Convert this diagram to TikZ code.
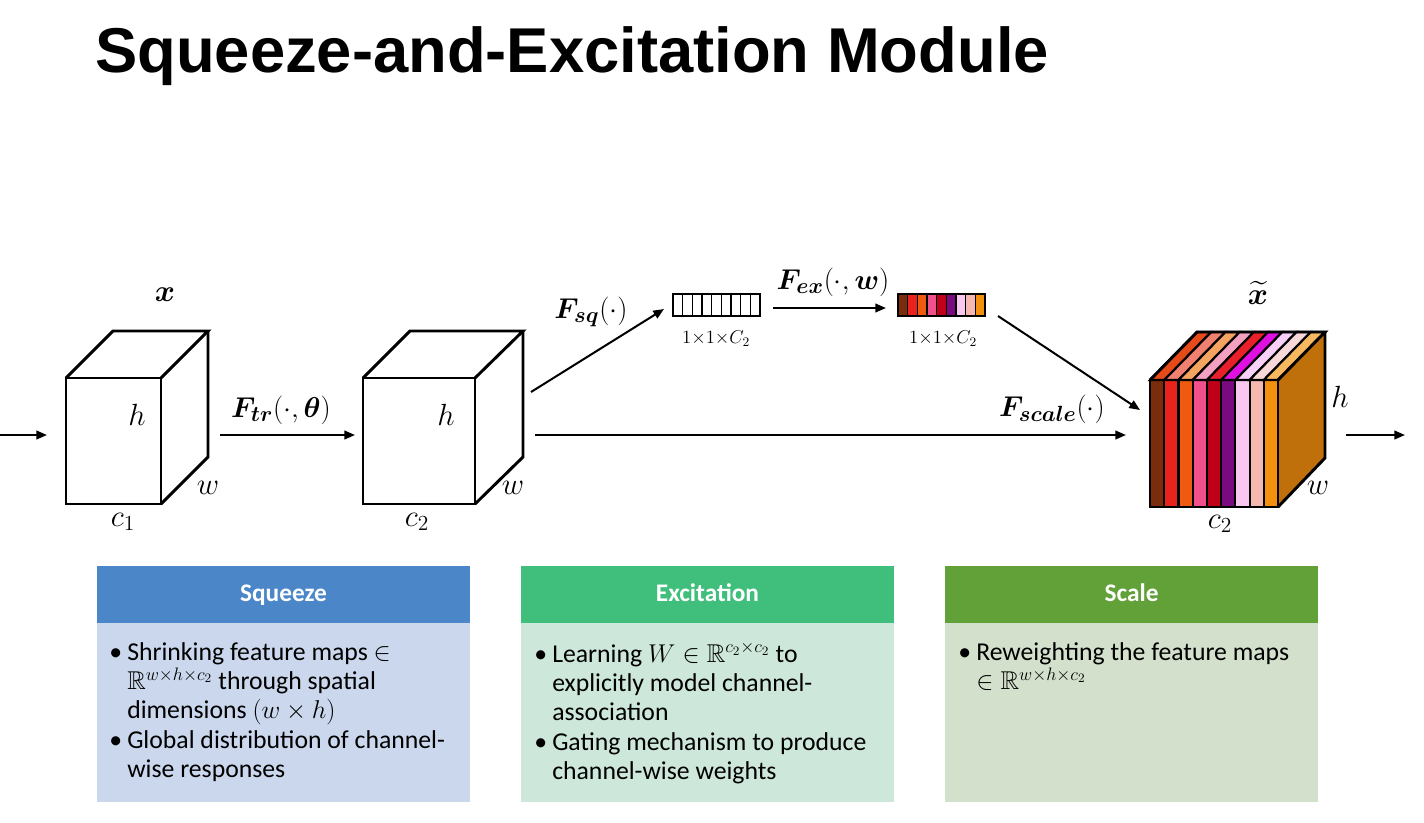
\RequirePackage{fix-cm}
\documentclass[tikz,border=0pt]{standalone}
\usepackage{amsmath,amssymb,bm}
\usepackage{fontspec}
\setmainfont{Carlito}
\newfontfamily\titlefont{Liberation Sans}
\usetikzlibrary{arrows.meta}
\definecolor{sqhead}{RGB}{74,134,200}
\definecolor{sqbody}{RGB}{202,215,236}
\definecolor{exhead}{RGB}{64,190,124}
\definecolor{exbody}{RGB}{205,231,218}
\definecolor{schead}{RGB}{98,160,56}
\definecolor{scbody}{RGB}{211,224,203}
\definecolor{cA}{RGB}{122,44,12}
\definecolor{cB}{RGB}{232,35,30}
\definecolor{cC}{RGB}{240,90,16}
\definecolor{cD}{RGB}{240,80,140}
\definecolor{cE}{RGB}{192,0,24}
\definecolor{cF}{RGB}{122,10,128}
\definecolor{cG}{RGB}{248,200,240}
\definecolor{cH}{RGB}{244,184,176}
\definecolor{cI}{RGB}{244,144,15}
\definecolor{tA}{RGB}{230,74,25}
\definecolor{tB}{RGB}{240,128,112}
\definecolor{tC}{RGB}{244,164,96}
\definecolor{tD}{RGB}{244,160,192}
\definecolor{tE}{RGB}{232,32,42}
\definecolor{tF}{RGB}{224,16,224}
\definecolor{tG}{RGB}{248,208,248}
\definecolor{tH}{RGB}{248,216,216}
\definecolor{tI}{RGB}{248,184,96}
\definecolor{sideC}{RGB}{192,112,10}
\newcommand{\bul}{\makebox[13.5pt][l]{•}}
\newcommand{\ind}{\hspace*{13.5pt}}
\newcommand{\bsub}[1]{_{\mbox{\fontsize{16.5}{18}\selectfont$\bm{#1}$}}}
\begin{document}
\begin{tikzpicture}[x=0.75pt,y=-0.75pt,
  cubeline/.style={line width=2.2pt,line join=miter},
  arr/.style={line width=1.5pt,-{Triangle[length=8pt,width=6.5pt]}},
  mlab/.style={inner sep=0pt,font=\fontsize{23}{26}\selectfont},
  flab/.style={inner sep=0pt,font=\fontsize{21.5}{24}\selectfont},
  dimlab/.style={inner sep=0pt,font=\fontsize{14}{16}\selectfont},
  headtxt/.style={inner sep=0pt,anchor=base,text=white,font=\fontsize{19}{22}\selectfont\bfseries},
  bodytxt/.style={inner sep=0pt,anchor=north west,align=left,font=\fontsize{19.3}{22}\selectfont}]
\useasboundingbox[fill=white] (0,0) rectangle (1424,822);
% title
\node[anchor=base west,inner sep=0pt,font=\titlefont\fontsize{47.5}{55}\selectfont\bfseries] (title) at (95,72) {Squeeze-and-Excitation Module};
% cube 1
\draw[cubeline] (66,378) rectangle (161,504);
\draw[cubeline] (66,378) -- (113,331) -- (208,331) -- (161,378);
\draw[cubeline] (161,504) -- (208,457) -- (208,331);
\node[mlab] (x) at (165,295) {$\bm{x}$};
\node[mlab] (h1) at (137,415) {$h$};
\node[mlab] (w1) at (208,488) {$w$};
\node[mlab] (c1) at (123,522) {$c_1$};
% cube 2
\draw[cubeline] (363,378) rectangle (475,504);
\draw[cubeline] (363,378) -- (410,331) -- (523,331) -- (475,378);
\draw[cubeline] (475,504) -- (523,457) -- (523,331);
\node[mlab] (h2) at (446,415) {$h$};
\node[mlab] (w2) at (513,488) {$w$};
\node[mlab] (c2a) at (417,522) {$c_2$};
% cube 3 (coloured)
\fill[sideC] (1278,380) -- (1325,332) -- (1325,458) -- (1278,507) -- cycle;
\foreach \i/\fc/\tc in {0/cA/tA,1/cB/tB,2/cC/tC,3/cD/tD,4/cE/tE,5/cF/tF,6/cG/tG,7/cH/tH,8/cI/tI}{
  \pgfmathsetmacro{\xa}{1150+\i*128/9}
  \pgfmathsetmacro{\xb}{1150+(\i+1)*128/9}
  \draw[line width=1.6pt,fill=\fc] (\xa,380) rectangle (\xb,507);
  \draw[line width=1.6pt,fill=\tc] (\xa,380) -- (\xa+47,332) -- (\xb+47,332) -- (\xb,380) -- cycle;
}
\draw[cubeline] (1150,380) rectangle (1278,507);
\draw[cubeline] (1150,380) -- (1197,332) -- (1325,332) -- (1278,380);
\draw[cubeline] (1278,507) -- (1325,458) -- (1325,332);
\node[mlab] (xt) at (1258,293) {$\widetilde{\bm{x}}$};
\node[mlab] (h3) at (1340,397) {$h$};
\node[mlab] (w3) at (1318,488) {$w$};
\node[mlab] (c2b) at (1220,524) {$c_2$};
% bars
\foreach \i in {0,...,8}{
  \pgfmathsetmacro{\xa}{673+\i*87/9}
  \draw[line width=1.2pt] (\xa,294) rectangle (\xa+87/9,316);
}
\foreach \i/\fc in {0/cA,1/cB,2/cC,3/cD,4/cE,5/cF,6/cG,7/cH,8/cI}{
  \pgfmathsetmacro{\xa}{898+\i*87/9}
  \draw[line width=1.2pt,fill=\fc] (\xa,294) rectangle (\xa+87/9,316);
}
\node[dimlab] (d1) at (716,339) {$1{\times}1{\times}C_2$};
\node[dimlab] (d2) at (943,339) {$1{\times}1{\times}C_2$};
% connector coordinates
\coordinate (in0) at (0,435); \coordinate (in1) at (47,435);
\coordinate (tr0) at (220,435); \coordinate (tr1) at (355,435);
\coordinate (sq0) at (531,392); \coordinate (sq1) at (664,309);
\coordinate (ex0) at (773,308); \coordinate (ex1) at (886,308);
\coordinate (bs0) at (998,316); \coordinate (bs1) at (1140,410);
\coordinate (sc0) at (535,435); \coordinate (sc1) at (1126,435);
\coordinate (out0) at (1346,435); \coordinate (out1) at (1405,435);
\draw[arr] (in0) -- (in1);
\draw[arr] (tr0) -- (tr1);
\draw[arr] (sq0) -- (sq1);
\draw[arr] (ex0) -- (ex1);
\draw[arr] (bs0) -- (bs1);
\draw[arr] (sc0) -- (sc1);
\draw[arr] (out0) -- (out1);
\node[flab] (ftr) at (281,410) {$\bm{F}\bsub{tr}(\cdot,\bm{\theta})$};
\node[flab] (fsq) at (591,312) {$\bm{F}\bsub{sq}(\cdot)$};
\node[flab] (fex) at (833,282) {$\bm{F}\bsub{ex}(\cdot,\bm{w})$};
\node[flab] (fsc) at (1052,409) {$\bm{F}\bsub{scale}(\cdot)$};
% boxes
\fill[sqhead] (97,566) rectangle (470,623);
\fill[sqbody] (97,623) rectangle (470,802);
\fill[exhead] (521,566) rectangle (894,623);
\fill[exbody] (521,623) rectangle (894,802);
\fill[schead] (945,566) rectangle (1318,623);
\fill[scbody] (945,623) rectangle (1318,802);
\node[headtxt] (hsq) at (283.5,601) {Squeeze};
\node[headtxt] (hex) at (707.5,601) {Excitation};
\node[headtxt] (hsc) at (1131.5,601) {Scale};
\node[bodytxt] (bsq) at (109,642) {\bul Shrinking feature maps $\in$\\
\ind $\mathbb{R}^{w\times h\times c_2}$ through spatial\\
\ind dimensions $(w\times h)$\\
\bul Global distribution of channel-\\
\ind wise responses};
\node[bodytxt] (bex) at (534,642) {\bul Learning $W\in\mathbb{R}^{c_2\times c_2}$ to\\
\ind explicitly model channel-\\
\ind association\\
\bul Gating mechanism to produce\\
\ind channel-wise weights};
\node[bodytxt] (bsc) at (958,642) {\bul Reweighting the feature maps\\
\ind $\in\mathbb{R}^{w\times h\times c_2}$};
\end{tikzpicture}
\end{document}
